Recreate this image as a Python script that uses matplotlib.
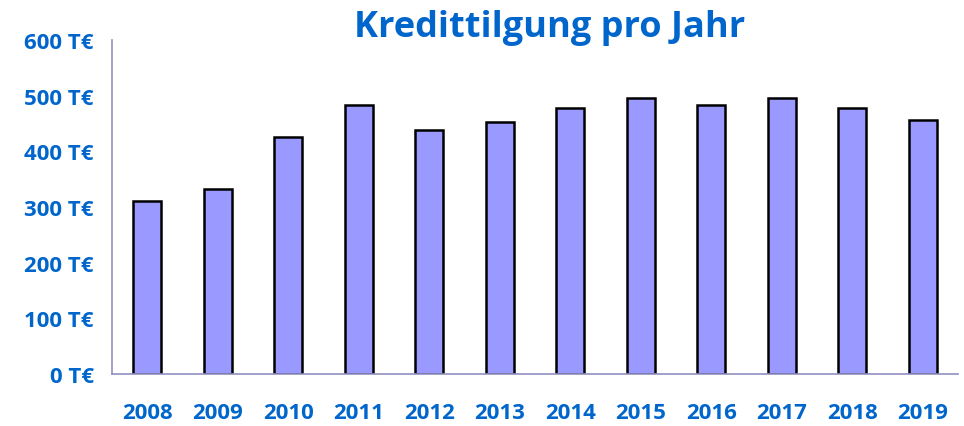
import matplotlib
matplotlib.use("Agg")
import matplotlib.pyplot as plt

# data
years = ['2008', '2009', '2010', '2011', '2012', '2013',
         '2014', '2015', '2016', '2017', '2018', '2019']
tilgung = [311, 333, 425, 483, 438, 452, 478, 496, 483, 496, 478, 456]
yticks = [0, 100, 200, 300, 400, 500, 600]

blue = '#0066CC'
plt.rcParams['font.family'] = ['Open Sans', 'DejaVu Sans']

fig = plt.figure(figsize=(9.64, 4.27), dpi=100)
ax = fig.add_axes([0.1162, 0.1218, 0.8776, 0.7822])

x = range(len(years))
ax.bar(x, tilgung, width=0.4, color='#9999FF', edgecolor='black', linewidth=1.8)

ax.set_xlim(-0.5, len(years) - 0.5)
ax.set_ylim(0, 600)
ax.set_yticks(yticks)
ax.set_yticklabels([str(v) + ' T€' for v in yticks])
ax.set_xticks(list(x))
ax.set_xticklabels(years)
ax.tick_params(axis='both', length=0, labelsize=16, labelcolor=blue)
ax.tick_params(axis='y', pad=13)
ax.tick_params(axis='x', pad=20)
for lab in ax.get_xticklabels() + ax.get_yticklabels():
    lab.set_fontweight('bold')

for s in ['top', 'right']:
    ax.spines[s].set_visible(False)
for s in ['left', 'bottom']:
    ax.spines[s].set_color('#9090C0')
    ax.spines[s].set_linewidth(1.2)

fig.text(550 / 964, 1 - 28 / 427, 'Kredittilgung pro Jahr', ha='center', va='center',
         fontsize=26, fontweight='bold', color=blue)

fig.savefig('out.png', dpi=100)
